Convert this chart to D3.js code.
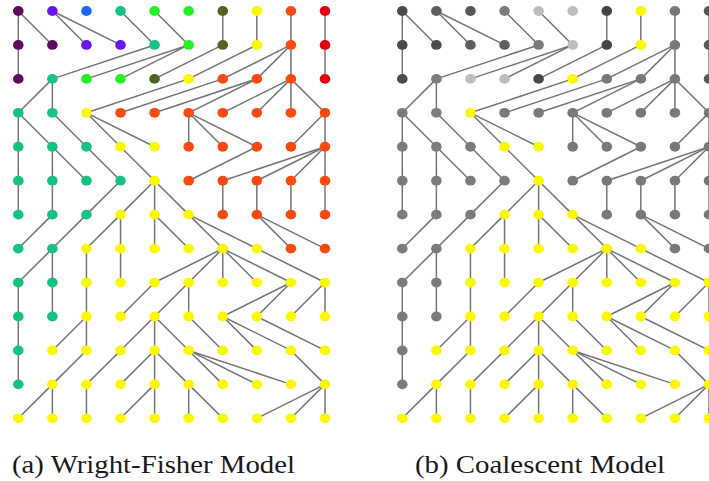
<!DOCTYPE html>
<html>
<head>
<meta charset="utf-8">
<script src="https://cdn.jsdelivr.net/npm/d3@7"></script>
<style>
  body { margin: 0; background: #fff; }
  svg { display: block; }
</style>
</head>
<body>
<div class="visualization"></div>
<script>
//constants
const width = 709;
const height = 481;

// colour of each founder (top row) in the Wright-Fisher panel
const founderColors = ["#5e0a5e", "#6a14ee", "#1a68f2", "#16c282", "#24f024",
                       "#24ee24", "#4f6421", "#fbf800", "#fb4a10", "#e6000f"];
// same founders in the coalescent panel: greys, the sampled lineage stays yellow
const founderGreys = ["#4a4a4a", "#5e5e5e", "#555555", "#7b7b7b", "#bdbdbd",
                      "#bdbdbd", "#454545", "#fbf800", "#787878", "#585858"];

// parent column (in the generation above) for each of the 10 individuals, generations 1..12
const parents = [
  [0, 0, 1, 1, 3, 4, 6, 7, 8, 9],
  [0, 4, 5, 5, 6, 7, 8, 8, 8, 9],
  [1, 1, 5, 6, 7, 7, 8, 8, 8, 8],
  [0, 0, 1, 2, 2, 5, 5, 5, 9, 9],
  [0, 1, 1, 2, 3, 7, 9, 9, 9, 9],
  [0, 1, 3, 4, 4, 4, 6, 7, 8, 9],
  [1, 2, 3, 3, 4, 4, 5, 5, 7, 7],
  [1, 1, 2, 3, 6, 6, 6, 6, 6, 7],
  [0, 1, 2, 4, 5, 5, 8, 8, 9, 9],
  [0, 2, 2, 4, 4, 4, 5, 6, 6, 7],
  [0, 2, 3, 4, 4, 4, 5, 5, 5, 8],
  [1, 1, 2, 4, 4, 5, 5, 9, 9, 9]
];

const captions = ["(a) Wright-Fisher Model", "(b) Coalescent Model"];

const popSize = founderColors.length;
const generations = parents.length + 1;

// founder of every node, worked out row by row
const founder = [d3.range(popSize)];
parents.forEach((row, g) => {
  founder.push(row.map(p => founder[g][p]));
});

const nodes = [];
const links = [];
for (let g = 0; g < generations; g++) {
  for (let i = 0; i < popSize; i++) {
    nodes.push({gen: g, col: i, founder: founder[g][i]});
    if (g > 0) links.push({gen: g, col: i, parent: parents[g - 1][i]});
  }
}

const svg = d3.select(".visualization")
    .append("svg")
    .attr("width", width)
    .attr("height", height);

const x = d3.scaleLinear().domain([0, popSize - 1]).range([18.3, 325]);
const y = d3.scaleLinear().domain([0, generations - 1]).range([11, 418.3]);

const panels = [
  {offset: 0, colors: founderColors},
  {offset: 384, colors: founderGreys}
];

panels.forEach((panel, k) => {
  const g = svg.append("g")
      .attr("transform", `translate(${panel.offset},0)`);

  //links first so the dots sit on top
  g.append("g")
    .selectAll("line")
    .data(links)
    .enter()
    .append("line")
      .attr("x1", d => x(d.parent))
      .attr("y1", d => y(d.gen - 1))
      .attr("x2", d => x(d.col))
      .attr("y2", d => y(d.gen))
      .attr("stroke", "#747474")
      .attr("stroke-width", 1.5);

  g.append("g")
    .selectAll("ellipse")
    .data(nodes)
    .enter()
    .append("ellipse")
      .attr("cx", d => x(d.col))
      .attr("cy", d => y(d.gen))
      .attr("rx", 5.3)
      .attr("ry", 4.9)
      .attr("fill", d => panel.colors[d.founder]);
});

//captions under each panel
svg.selectAll("text.caption")
  .data(captions)
  .enter()
  .append("text")
    .attr("class", "caption")
    .attr("x", (d, i) => i === 0 ? 12 : 415)
    .attr("y", 473)
    .attr("textLength", (d, i) => i === 0 ? 283 : 250)
    .attr("lengthAdjust", "spacingAndGlyphs")
    .style("font-family", "'Liberation Serif', 'DejaVu Serif', serif")
    .style("font-size", "25px")
    .style("fill", "#1a1a1a")
    .text(d => d);
</script>
</body>
</html>
